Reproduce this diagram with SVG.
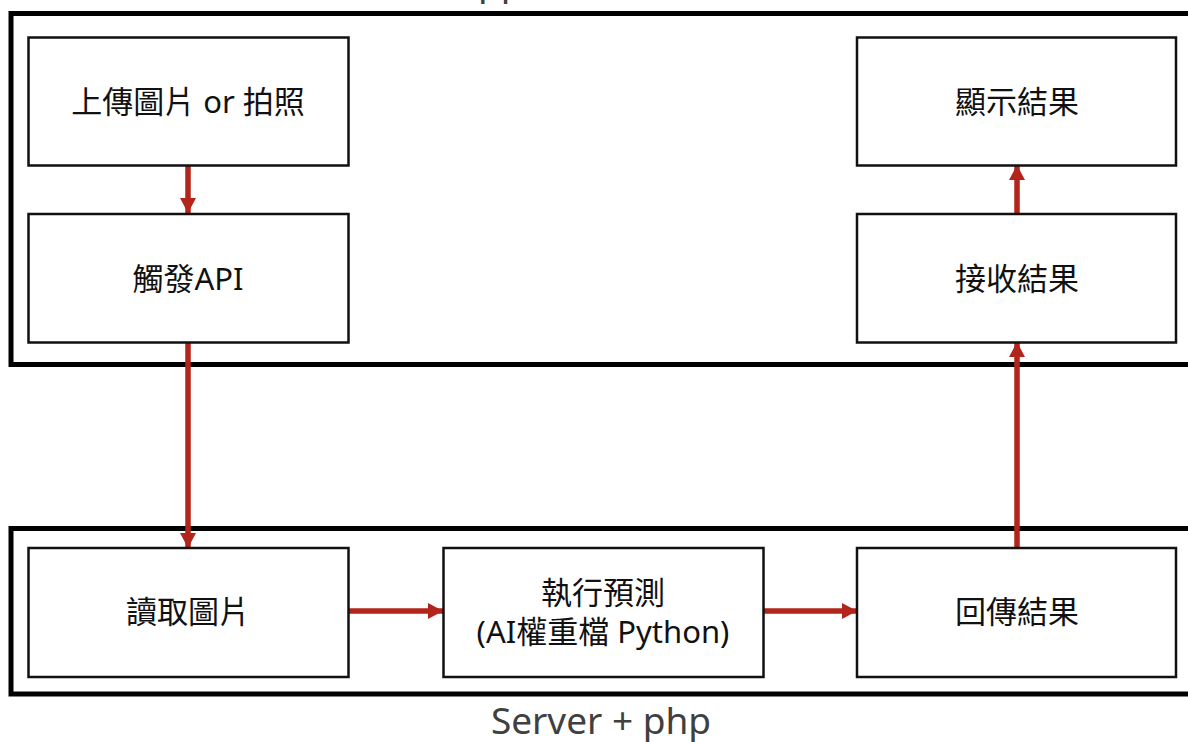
<svg xmlns="http://www.w3.org/2000/svg" width="1188" height="742" viewBox="0 0 1188 742">
<style>
.frame{fill:none;stroke:#000;stroke-width:5}
.box{fill:#fff;stroke:#111;stroke-width:2.5}
.t{font-family:"Noto Sans","Noto Sans CJK TC",sans-serif;font-size:31px;fill:#111;text-anchor:middle;dominant-baseline:central}
.title{font-family:"Noto Sans","Noto Sans CJK TC",sans-serif;font-size:37px;fill:#404040;text-anchor:middle}
.c{fill:none;stroke:#b3241b;stroke-width:5.5}
</style>
<defs>
<marker id="ah" markerUnits="userSpaceOnUse" markerWidth="16" markerHeight="16" refX="15" refY="8" orient="auto">
<path d="M0,0 L15,8 L0,16 Z" fill="#b3241b"/>
</marker>
</defs>
<rect width="1188" height="742" fill="#fff"/>
<g id="app-frame">
<rect class="frame" x="11" y="13.5" width="1200" height="351"/>
<text class="title" x="489" y="-5">App</text>
</g>
<g id="server-frame">
<rect class="frame" x="11" y="528.5" width="1200" height="165.5"/>
<text class="title" x="601" y="734">Server + php</text>
</g>
<g id="connectors">
<line class="c" x1="188" y1="166" x2="188" y2="213" marker-end="url(#ah)"/>
<line class="c" x1="188" y1="343" x2="188" y2="548" marker-end="url(#ah)"/>
<line class="c" x1="349" y1="611" x2="443" y2="611" marker-end="url(#ah)"/>
<line class="c" x1="764" y1="611" x2="857" y2="611" marker-end="url(#ah)"/>
<line class="c" x1="1017" y1="548" x2="1017" y2="342" marker-end="url(#ah)"/>
<line class="c" x1="1017" y1="213" x2="1017" y2="165" marker-end="url(#ah)"/>
</g>
<g id="n-upload">
<rect class="box" x="28.5" y="37.5" width="320" height="128"/>
<text class="t" x="188" y="101">上傳圖片 or 拍照</text>
</g>
<g id="n-trigger">
<rect class="box" x="28.5" y="214" width="320" height="128.5"/>
<text class="t" x="188" y="278">觸發API</text>
</g>
<g id="n-show">
<rect class="box" x="857" y="37.5" width="319" height="128"/>
<text class="t" x="1017" y="101">顯示結果</text>
</g>
<g id="n-receive">
<rect class="box" x="857" y="214" width="319" height="128.5"/>
<text class="t" x="1017" y="278">接收結果</text>
</g>
<g id="n-read">
<rect class="box" x="28.5" y="548" width="320" height="129"/>
<text class="t" x="188" y="611">讀取圖片</text>
</g>
<g id="n-predict">
<rect class="box" x="443.5" y="548" width="320" height="129"/>
<text class="t" x="603" y="592">執行預測</text>
<text class="t" x="603" y="631">(AI權重檔 Python)</text>
</g>
<g id="n-return">
<rect class="box" x="857" y="548" width="319" height="129"/>
<text class="t" x="1017" y="611">回傳結果</text>
</g>
</svg>
